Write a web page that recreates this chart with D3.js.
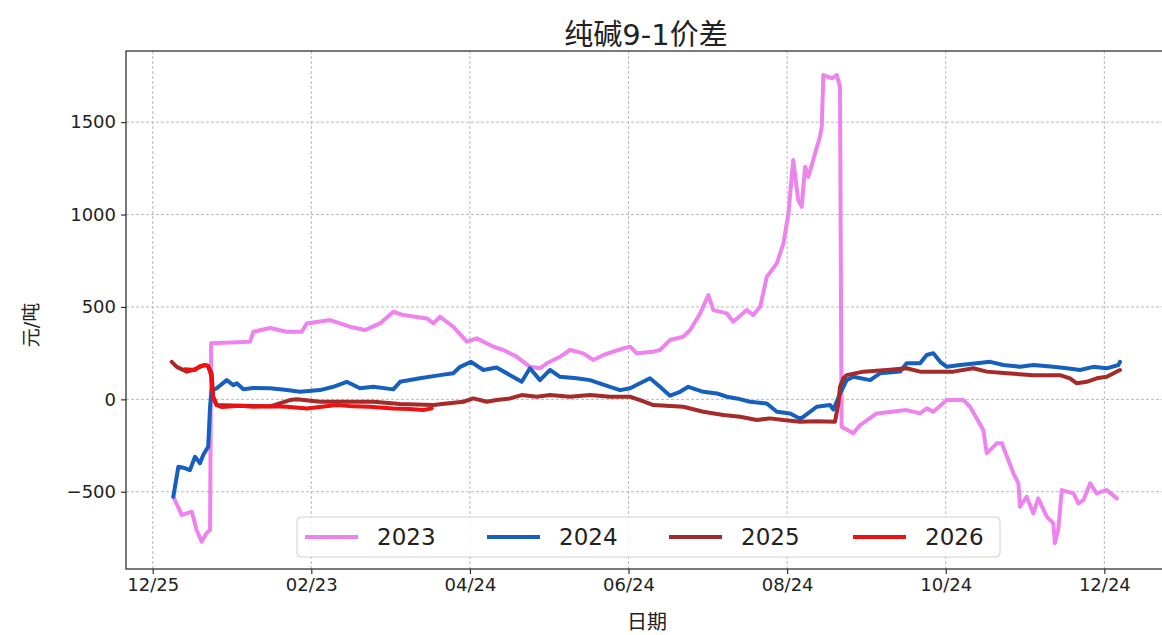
<!DOCTYPE html>
<html><head><meta charset="utf-8">
<script src="https://cdn.jsdelivr.net/npm/d3@7"></script>
<style>
body{margin:0;background:#fff;}
text{font-family:"DejaVu Sans","Noto Sans CJK SC",sans-serif;}
</style></head>
<body><svg id="c" width="1162" height="635"></svg>
<script>
// x = days since 12/25 (seasonal axis)
const tickDays = [0, 60, 120, 180, 240, 300, 360];
const tickLabels = ["12/25", "02/23", "04/24", "06/24", "08/24", "10/24", "12/24"];
const yTicks = [-500, 0, 500, 1000, 1500];
const seriesNames = ["2023", "2024", "2025", "2026"];
const seriesColors = ["#EE82EE", "#1560BD", "#A52A2A", "#EE1111"];

const days2023 = [7.8,11.0,14.8,16.6,18.5,20.4,21.7,22.1,36.8,38.1,44.4,50.7,56.4,58.3,67.1,74.6,80.3,86.0,91.0,94.8,103.7,106.2,108.7,113.7,118.8,122.6,128.9,132.6,137.7,142.7,146.5,149.1,154.1,157.9,162.9,166.7,170.5,178.0,180.6,183.1,189.4,191.9,195.7,200.7,203.3,207.1,210.2,212.1,217.2,219.6,224.7,227.2,229.8,232.3,236.1,238.6,240.5,242.3,244.2,245.5,246.8,248.0,252.4,253.1,253.7,256.9,258.8,260.0,260.6,265.0,267.6,273.9,285.2,290.3,292.8,295.3,300.4,306.7,309.2,314.2,315.5,319.3,321.2,325.6,327.5,328.1,330.6,333.1,335.0,338.2,340.7,341.3,342.6,343.9,348.3,350.2,352.1,354.6,357.1,360.9,364.7];
const vals2023 = [-527,-626,-608,-707,-770,-723,-707,303,312,366,386,366,366,411,429,393,375,411,474,456,438,411,447,393,312,330,285,267,231,176,168,195,231,267,249,213,240,276,285,249,258,267,321,339,375,465,564,483,465,420,483,456,501,663,736,844,1006,1295,1078,1042,1259,1204,1421,1475,1755,1737,1755,1692,-148,-184,-139,-76,-58,-76,-49,-67,-4,-4,-40,-166,-292,-238,-238,-400,-455,-581,-527,-617,-536,-635,-671,-779,-700,-491,-509,-563,-545,-455,-509,-491,-536];

const days2024 = [7.8,9.7,11.6,14.1,16.0,17.9,19.1,21.0,21.7,22.3,24.2,28.0,30.5,31.8,34.3,38.1,44.4,50.0,55.7,63.3,68.3,73.4,78.4,83.5,91.0,93.6,101.1,108.7,113.7,116.3,120.4,125.1,130.1,135.2,139.6,142.7,146.5,150.3,154.1,160.4,165.4,173.0,176.8,180.6,188.1,191.9,195.7,199.5,202.6,208.3,213.4,217.2,220.9,226.0,232.3,236.1,241.1,244.9,246.1,251.2,256.2,257.5,260.0,262.5,265.0,271.4,275.1,282.7,285.2,290.3,292.8,295.3,297.9,300.4,305.4,311.7,316.8,321.8,328.1,333.1,340.7,345.8,350.8,355.8,360.9,365.3,365.9];
const vals2024 = [-527,-365,-370,-383,-311,-346,-301,-256,-40,50,60,104,77,87,55,62,60,52,41,50,68,95,60,68,54,95,114,131,141,176,203,159,172,131,95,168,104,159,122,114,104,68,50,60,114,68,20,41,68,41,32,14,5,-13,-22,-67,-76,-105,-95,-40,-31,-55,30,104,122,104,141,150,195,195,240,250,203,176,186,195,203,186,176,186,176,168,159,176,168,186,203];

const days2025 = [7.2,9.1,12.9,15.4,17.9,19.8,21.0,22.3,22.9,24.2,33.0,44.4,51.9,54.5,63.3,75.9,83.5,93.6,106.2,111.2,117.5,121.3,126.4,130.1,135.2,139.6,145.3,150.3,157.9,165.4,173.0,180.6,184.4,189.4,200.7,208.3,215.9,222.2,228.5,233.5,238.6,244.9,251.2,258.1,259.4,260.0,261.3,262.5,268.8,277.7,285.2,290.3,302.9,310.4,315.5,323.1,333.1,343.2,347.0,349.6,353.3,357.1,360.9,365.9];
const vals2025 = [203,176,150,160,176,186,180,141,14,-31,-35,-38,-4,0,-13,-13,-13,-25,-31,-22,-13,5,-13,-4,5,23,14,23,14,23,14,14,-4,-31,-40,-67,-85,-94,-112,-103,-112,-121,-118,-121,-22,68,114,131,150,159,168,150,150,168,150,141,131,131,114,87,95,114,122,159];

const days2026 = [12.2,16.0,17.9,19.8,20.9,22.1,22.8,24.2,26.2,33.0,38.1,44.4,50.7,58.3,69.6,75.8,82.2,91.0,97.3,102.4,105.5];
const vals2026 = [163,159,180,186,180,132,13,-31,-42,-35,-40,-37,-40,-49,-31,-38,-40,-49,-52,-58,-49];

const svg = d3.select("#c");
const L = 126, R = 1167, T = 51, B = 569;
const x = d3.scaleLinear().domain([-10.1, 383.7]).range([L, R]);
const y = d3.scaleLinear().domain([-918, 1885]).range([B, T]);

svg.append("rect").attr("width",1162).attr("height",635).attr("fill","#fff");

// grid
const grid = svg.append("g").attr("stroke","#a8a8a8").attr("stroke-width",0.8).attr("stroke-dasharray","3,2");
tickDays.forEach(d=>grid.append("line").attr("x1",x(d)).attr("x2",x(d)).attr("y1",T).attr("y2",B));
yTicks.forEach(v=>grid.append("line").attr("x1",L).attr("x2",R).attr("y1",y(v)).attr("y2",y(v)));

// lines
const series = [
  {days:days2023, vals:vals2023},
  {days:days2024, vals:vals2024},
  {days:days2025, vals:vals2025},
  {days:days2026, vals:vals2026}
];
const line = d3.line().x(p=>x(p[0])).y(p=>y(p[1]));
svg.append("clipPath").attr("id","clp").append("rect").attr("x",L).attr("y",T).attr("width",R-L).attr("height",B-T);
series.forEach((s,i)=>{
  const pts = s.days.map((d,j)=>[d,s.vals[j]]);
  svg.append("path").attr("d",line(pts)).attr("fill","none")
    .attr("stroke",seriesColors[i]).attr("stroke-width",4)
    .attr("stroke-linejoin","round").attr("stroke-linecap","round")
    .attr("clip-path","url(#clp)");
});

// axes
const xAxis = d3.axisBottom(x).tickValues(tickDays).tickFormat((d,i)=>tickLabels[i]).tickSize(5).tickPadding(4);
const gx = svg.append("g").attr("transform",`translate(0,${B})`).call(xAxis);
const yAxis = d3.axisLeft(y).tickValues(yTicks).tickFormat(v=>v<0?"\u2212"+Math.abs(v):v).tickSize(5).tickPadding(5);
const gy = svg.append("g").attr("transform",`translate(${L},0)`).call(yAxis);
[gx,gy].forEach(g=>{
  g.select(".domain").remove();
  g.selectAll(".tick line").attr("stroke","#222").attr("stroke-width",1.1);
  g.selectAll("text").attr("fill","#222").style("font-size","18px");
});
// frame
svg.append("rect").attr("x",L).attr("y",T).attr("width",R-L).attr("height",B-T)
  .attr("fill","none").attr("stroke","#222").attr("stroke-width",1.2);

// title & labels
svg.append("text").attr("x",646).attr("y",45).attr("text-anchor","middle")
  .style("font-size","29px").attr("fill","#222").text("纯碱9-1价差");
svg.append("text").attr("x",647).attr("y",629).attr("text-anchor","middle")
  .style("font-size","20px").attr("fill","#222").text("日期");
svg.append("text").attr("transform","translate(38,325) rotate(-90)").attr("text-anchor","middle")
  .style("font-size","19px").attr("fill","#222").text("元/吨");

// legend
const lg = svg.append("g");
lg.append("rect").attr("x",297).attr("y",517).attr("width",703).attr("height",40).attr("rx",4)
  .attr("fill","#fff").attr("fill-opacity",0.85).attr("stroke","#d0d0d0");
const lx = [305, 487, 669, 853];
seriesNames.forEach((n,i)=>{
  lg.append("line").attr("x1",lx[i]).attr("x2",lx[i]+53).attr("y1",537).attr("y2",537)
    .attr("stroke",seriesColors[i]).attr("stroke-width",4);
  lg.append("text").attr("x",lx[i]+72).attr("y",545).style("font-size","23px").attr("fill","#222").text(n);
});
</script></body></html>
